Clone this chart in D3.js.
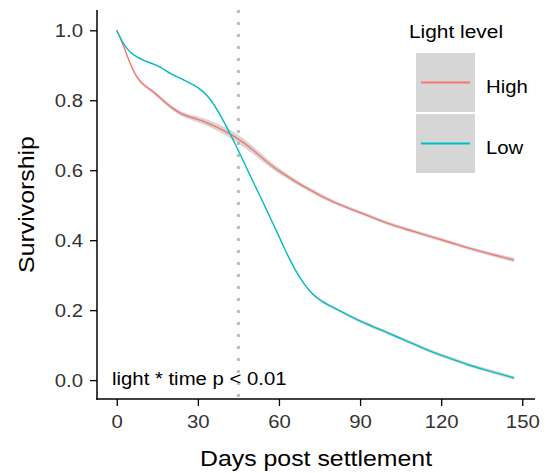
<!DOCTYPE html>
<html>
<head>
<meta charset="utf-8">
<script src="https://cdn.jsdelivr.net/npm/d3@7"></script>
<style>
  html, body { margin: 0; padding: 0; background: #fff; }
  svg { display: block; }
  text { font-family: "Liberation Sans", Arial, Helvetica, sans-serif; }
</style>
</head>
<body>
<svg id="chart" width="546" height="473"></svg>
<script>
// ---- data ----
const highDays = [0,2.5,5,7.5,10,13,16,20,24,28,32,36,40,44,47,50,54,57,60,63,66,70,75,80,85,90,95,100,106,112,118,124,130,136,142,147];
const highSurv = [1.0,0.955,0.905,0.866,0.844,0.827,0.807,0.781,0.761,0.750,0.740,0.727,0.712,0.694,0.678,0.660,0.634,0.615,0.598,0.583,0.568,0.550,0.529,0.510,0.494,0.479,0.464,0.449,0.434,0.420,0.406,0.392,0.378,0.365,0.353,0.343];
const highSE   = [0,0.002,0.003,0.004,0.004,0.005,0.005,0.006,0.007,0.008,0.009,0.010,0.011,0.012,0.012,0.011,0.010,0.009,0.008,0.007,0.007,0.006,0.006,0.005,0.005,0.005,0.005,0.005,0.005,0.005,0.005,0.005,0.005,0.005,0.006,0.006];
const lowDays  = [0,2.5,5,7.5,10, 13,16,20,24,28, 30,32,34,36,38, 40,42,44,46,48, 50,52,54,56,58, 60,62,64,66,68, 70,72,74,76,78, 80,85,90,95,100, 106,112,118,124,130, 136,142,147];
const lowSurv  = [1.0,0.962,0.938,0.924,0.914, 0.905,0.895,0.876,0.861,0.845, 0.836,0.824,0.808,0.787,0.761, 0.733,0.703,0.672,0.640,0.607, 0.574,0.542,0.510,0.477,0.444, 0.411,0.377,0.345,0.316,0.290, 0.268,0.250,0.236,0.225,0.216, 0.208,0.188,0.169,0.152,0.136, 0.116,0.096,0.077,0.060,0.044, 0.030,0.017,0.006];
const lowSE    = [0,0.001,0.001,0.002,0.002, 0.002,0.002,0.002,0.002,0.002, 0.002,0.002,0.002,0.003,0.003, 0.003,0.003,0.003,0.003,0.003, 0.003,0.003,0.003,0.003,0.003, 0.003,0.003,0.003,0.003,0.003, 0.003,0.003,0.004,0.004,0.004, 0.004,0.004,0.005,0.005,0.005, 0.005,0.005,0.005,0.005,0.005, 0.005,0.005,0.005];
const seriesNames = ["High", "Low"];
const seriesColors = ["#F8766D", "#00BFC4"];
const xTicks = [0, 30, 60, 90, 120, 150];
const yTicks = [0.0, 0.2, 0.4, 0.6, 0.8, 1.0];
const vlineDay = 45;
const annotation = "light * time p < 0.01";
const xTitle = "Days post settlement";
const yTitle = "Survivorship";
const legendTitle = "Light level";

// ---- layout ----
const svg = d3.select("#chart");
const mLeft = 97, mRight = 535, mTop = 10, mBottom = 399;
const STRETCH = 1.13;

const x = d3.scaleLinear().domain([-7.3, 154.7]).range([mLeft, mRight]);
const y = d3.scaleLinear().domain([-0.054, 1.058]).range([mBottom, mTop]);

function stext(parent, px, py, str, size, anchor, rot, fill) {
  return parent.append("text")
    .attr("transform", `translate(${px},${py}) rotate(${rot || 0}) scale(${STRETCH},1)`)
    .attr("text-anchor", anchor || "start")
    .attr("font-size", size)
    .attr("fill", fill || "#000")
    .text(str);
}

const series = [
  { name: seriesNames[0], color: seriesColors[0], days: highDays, values: highSurv, se: highSE },
  { name: seriesNames[1], color: seriesColors[1], days: lowDays, values: lowSurv, se: lowSE }
];

// vertical dotted line
svg.append("line")
  .attr("x1", x(vlineDay)).attr("x2", x(vlineDay))
  .attr("y1", mTop).attr("y2", mBottom)
  .attr("stroke", "#bdbdbd").attr("stroke-width", 3)
  .attr("stroke-dasharray", "3 9");

const area = d3.area()
  .x(d => x(d.d)).y0(d => y(d.v - d.s)).y1(d => y(d.v + d.s))
  .curve(d3.curveMonotoneX);
const line = d3.line().x(d => x(d.d)).y(d => y(d.v)).curve(d3.curveMonotoneX);

series.forEach(s => {
  const pts = s.days.map((d, i) => ({ d: d, v: s.values[i], s: s.se[i] }));
  svg.append("path").attr("d", area(pts))
    .attr("fill", "#999999").attr("fill-opacity", 0.4).attr("stroke", "none");
  svg.append("path").attr("d", line(pts))
    .attr("fill", "none").attr("stroke", s.color).attr("stroke-width", 1.4);
});

// axes
const xAxis = svg.append("g").attr("transform", `translate(0,${mBottom})`)
  .call(d3.axisBottom(x).tickValues(xTicks).tickSize(7).tickSizeOuter(0).tickFormat(d3.format("d")));
const yAxis = svg.append("g").attr("transform", `translate(${mLeft},0)`)
  .call(d3.axisLeft(y).tickValues(yTicks).tickSize(7).tickSizeOuter(0).tickFormat(d3.format(".1f")));

[xAxis, yAxis].forEach(g => {
  g.select(".domain").remove();
  g.selectAll(".tick line").attr("stroke", "#000").attr("stroke-width", 1.3);
  g.selectAll(".tick text").attr("font-size", 18).attr("fill", "#333")
    .attr("font-family", '"Liberation Sans", Arial, Helvetica, sans-serif');
});
xAxis.selectAll(".tick text")
  .attr("y", null).attr("dy", null)
  .attr("transform", `translate(0,29) scale(${STRETCH},1)`);
yAxis.selectAll(".tick text")
  .attr("x", null).attr("dy", null)
  .attr("transform", `translate(-14,6.5) scale(${STRETCH},1)`);

// axis lines
svg.append("line").attr("x1", mLeft).attr("x2", mLeft).attr("y1", mTop).attr("y2", mBottom + 0.75)
  .attr("stroke", "#000").attr("stroke-width", 1.5);
svg.append("line").attr("x1", mLeft - 0.75).attr("x2", mRight).attr("y1", mBottom).attr("y2", mBottom)
  .attr("stroke", "#000").attr("stroke-width", 1.5);

// titles
stext(svg, (mLeft + mRight) / 2, 466, xTitle, 22, "middle");
stext(svg, 34, (mTop + mBottom) / 2, yTitle, 22, "middle", -90);

// annotation
stext(svg, 112, 385, annotation, 18, "start");

// legend
const lg = svg.append("g");
stext(lg, 409, 38, legendTitle, 18.5, "start");
series.forEach((s, i) => {
  const ky = 53 + i * 61;
  lg.append("rect").attr("x", 416).attr("y", ky).attr("width", 59).attr("height", 59)
    .attr("fill", "#d6d6d6");
  lg.append("line").attr("x1", 421).attr("x2", 470)
    .attr("y1", ky + 29.5).attr("y2", ky + 29.5)
    .attr("stroke", s.color).attr("stroke-width", 1.8);
  stext(lg, 486, ky + 40, s.name, 18, "start");
});
</script>
</body>
</html>
